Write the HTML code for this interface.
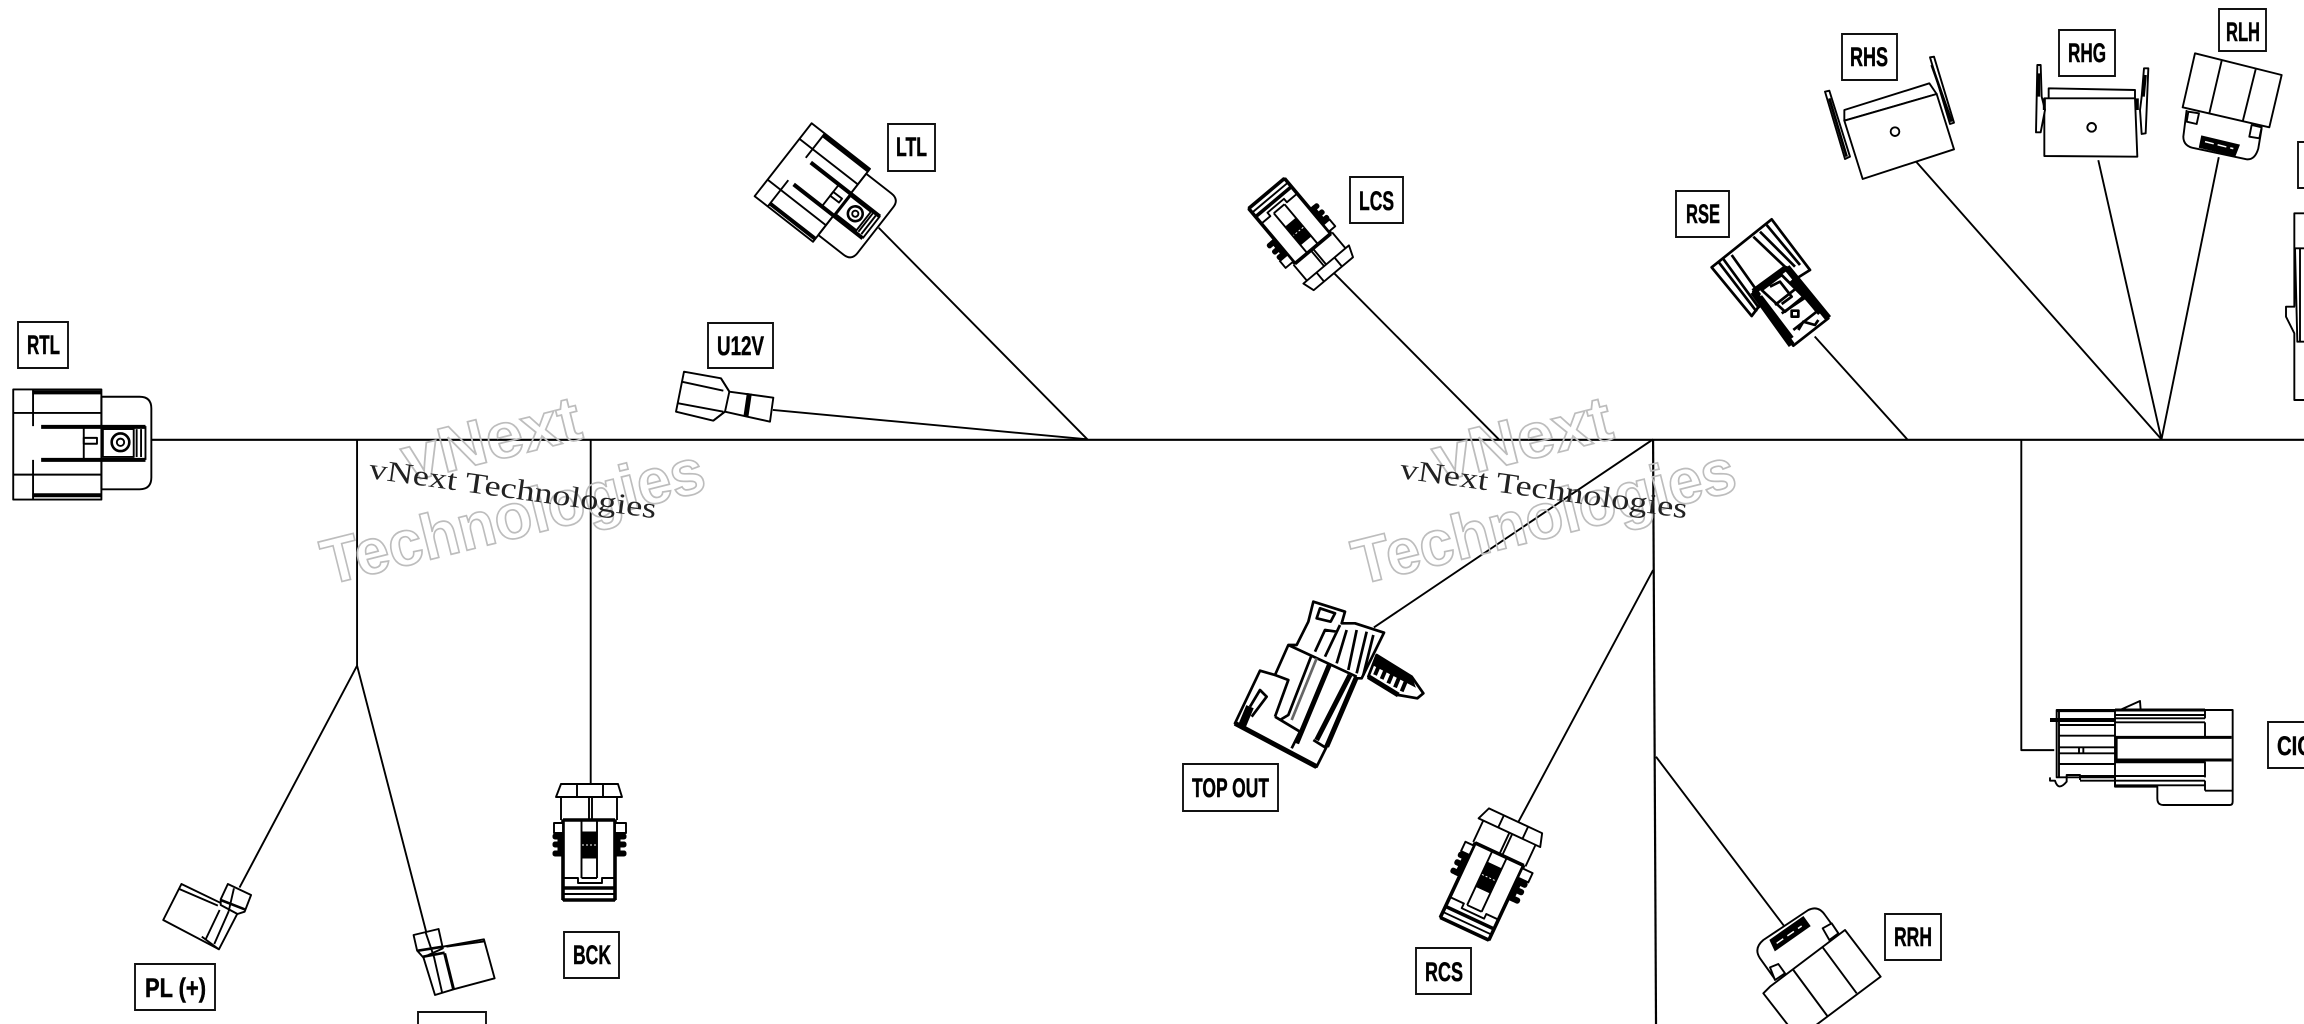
<!DOCTYPE html>
<html><head><meta charset="utf-8"><title>Harness diagram</title>
<style>
html,body{margin:0;padding:0;background:#fff;width:2304px;height:1024px;overflow:hidden}
svg{display:block}
svg *{vector-effect:non-scaling-stroke}
.s{fill:none;stroke:#000;stroke-width:1.9;stroke-linejoin:round}
.w{fill:#fff;stroke:#000;stroke-width:1.9;stroke-linejoin:round}
.t{fill:none;stroke:#000;stroke-width:3.6}
.b{fill:#000;stroke:#000;stroke-width:1}
.h .s,.h .w{stroke-width:2.7}
.box{fill:#fff;stroke:#111;stroke-width:1.9}
.lbl{font-family:"Liberation Sans",sans-serif;font-weight:bold;font-size:27px;fill:#000;stroke:#000;stroke-width:.5}
.mk{font-family:"Liberation Sans",sans-serif;font-weight:bold;font-size:64px;fill:none;stroke:#bdbdbd;stroke-width:1.7}
.mk2{font-family:"Liberation Serif",serif;font-size:29px;fill:#222}
</style></head><body>
<svg xmlns="http://www.w3.org/2000/svg" width="2304" height="1024" viewBox="0 0 2304 1024">
<defs>
<g id="hdr">
  <path class="w" d="M69 270H95Q103 270 103 278V325Q103 333 95 333H69"/>
  <rect class="w" x="9" y="265" width="60" height="75"/>
  <path class="s" d="M22.5 265V290M22.5 313V340M69 270V290M69 313V333M9 281H69M9 323H69M57 290V313M99 290V313"/>
  <path class="t" d="M22 267H69M22 337H69M28 290.5H99M28 313H99" style="stroke-width:4"/>
  <rect class="s" x="57" y="298" width="9" height="4"/>
  <rect class="s" x="70" y="292" width="21" height="19"/>
  <circle class="t" cx="82" cy="301" r="6" style="stroke-width:2.6"/>
  <circle class="s" cx="82" cy="301" r="2.5"/>
  <path class="s" d="M93 292V311M96 292V311"/>
</g>
<g id="bck">
  <polygon class="w" points="-29,0 28,0 32,13 -34,13"/>
  <path class="s" d="M-13 0V13M13 0V13M-29 13V36M27 13V36M-1 13V36M2 13V36"/>
  <rect class="w" x="-27" y="36" width="52" height="80"/>
  <path class="t" d="M-27 36H25M-27 36V116M25 36V116M-27 104H25M-27 116H25"/>
  <path class="s" d="M-8.5 36V94M7 36V94M-8.5 94H7M-27 94H-12V99H12V94H25M-27 110H25"/>
  <rect class="b" x="-8.5" y="48" width="15.5" height="26"/>
  <path d="M-8 61H6" stroke="#fff" stroke-width="1" stroke-dasharray="2 2" fill="none"/>
  <rect class="w" x="-36" y="39" width="9" height="10"/>
  <rect class="w" x="25" y="39" width="11" height="10"/>
  <rect class="b" x="-37" y="50" width="10" height="5" rx="2"/>
  <rect class="b" x="-37" y="58" width="10" height="5" rx="2"/>
  <rect class="b" x="-37" y="67" width="10" height="5" rx="2"/>
  <rect class="b" x="-32" y="50" width="5" height="22"/>
  <rect class="b" x="25" y="50" width="11" height="5" rx="2"/>
  <rect class="b" x="25" y="58" width="11" height="5" rx="2"/>
  <rect class="b" x="25" y="67" width="11" height="5" rx="2"/>
  <rect class="b" x="25" y="50" width="5" height="22"/>
</g>
<g id="mk">
  <text class="mk" transform="translate(408,482) rotate(-14)" textLength="182" lengthAdjust="spacingAndGlyphs">vNext</text>
  <text class="mk" transform="translate(328,585) rotate(-14)" textLength="392" lengthAdjust="spacingAndGlyphs">Technologies</text>
  <text class="mk2" transform="translate(368,478) rotate(8)" textLength="290" lengthAdjust="spacingAndGlyphs">vNext Technologies</text>
</g>
</defs>

<!-- wires -->
<g transform="scale(1.4694)" class="s">
  <path class="s" d="M103 299.3H1568" style="stroke-width:2.2"/>
  <path class="s" d="M243 299V453L163 604M243 453L290 634"/>
  <path class="s" d="M402 299V535"/>
  <path class="s" d="M526 279L740 299L598 155"/>
  <path class="s" d="M908 186L1020 299"/>
  <path class="s" d="M1125 299L935 427"/>
  <path class="s" d="M1125 299L1127 697" style="stroke-width:2.2"/>
  <path class="s" d="M1125 388L1033 560M1127 515L1214 630"/>
  <path class="s" d="M1235 229L1298 299"/>
  <path class="s" d="M1304 110L1471 299L1428 109M1471 299L1510 107"/>
  <path class="s" d="M1375.6 299V510.5H1398"/>
</g>

<!-- RTL / LTL -->
<g transform="scale(1.4694)">
  <use href="#hdr"/>
  <use href="#hdr" transform="translate(597,155) rotate(38) scale(.84) translate(-103,-299)"/>
</g>

<!-- BCK family -->
<use href="#bck" transform="translate(590,784)"/>
<use href="#bck" transform="translate(1516,821) rotate(25) scale(1.03)"/>
<use href="#bck" transform="translate(1333,274) rotate(140) scale(.9)"/>

<!-- U12V -->
<g transform="translate(660,100) scale(.33333)">
  <polygon class="w" points="72,815 183,835 208,875 340,893 330,965 262,950 195,935 160,962 48,935"/>
  <path class="s" d="M65 845L190 872M55 910L190 935M208 875L195 935M183 835L208 875M160 962L195 935"/>
  <path class="t" d="M268 880L258 948" style="stroke-width:5"/>
</g>

<!-- PL connectors -->
<g transform="translate(100,740) scale(.35714,.33333)">
  <polygon class="w" points="228,432 340,490 390,510 333,628 177,540"/>
  <path class="s" d="M222 447L330 497M295 600L335 510M320 612L360 515M285 590L333 628"/>
  <polygon class="w" points="358,432 423,465 405,515 385,522 338,495 338,478"/>
  <path class="t" d="M338 480L405 508" style="stroke-width:2.6"/>
  <path class="s" d="M375 445L360 515"/>
  <polygon class="w" points="960,620 1075,598 1105,715 990,748 938,765 905,650"/>
  <polygon class="w" points="878,585 948,567 960,625 905,652 888,632"/>
  <path class="t" d="M890 632L960 620M905 650L965 638" style="stroke-width:2.6"/>
  <path class="s" d="M912 578L935 650M935 650L958 758M970 620L1078 604"/>
  <path class="t" d="M965 640L990 748" style="stroke-width:3"/>
</g>

<!-- TOP OUT -->
<g class="h" transform="translate(1160,580) scale(.33333)">
  <polygon class="w" points="650,225 755,290 790,340 772,355 715,345 625,290"/>
  <polygon class="b" points="650,225 755,292 765,320 640,255"/>
  <path class="t" d="M625 290L715 345" style="stroke-width:5"/>
  <path class="t" d="M660 250L645 285M680 262L665 297M700 274L685 310M720 286L705 322M740 298L725 334" style="stroke-width:4"/>
  <polygon class="w" points="445,125 460,65 555,95 545,130 585,130 672,158 605,295 590,295 500,500 470,560 225,430 300,272 345,285 385,195 410,195"/>
  <polygon class="s" points="480,85 525,100 512,125 470,115"/>
  <path class="s" d="M385 195L590 290M345 285L385 300L345 410M455 225L385 405L360 420M510 250L410 490M345 410L420 455L395 505M460 480L500 505M540 135L495 230M530 155L495 150L465 215M560 150L530 250M590 150L565 270M620 155L590 280M640 165L610 285M270 380L300 330L320 350L275 410"/>
  <path class="t" d="M225 430L470 560M510 250L410 490M570 285L470 480M590 290L500 500" style="stroke-width:5"/>
  <path class="t" d="M270 380L245 440" style="stroke-width:8"/>
  <path class="s" d="M470 235L395 420" style="stroke:#666"/>
</g>

<!-- RRH -->
<g transform="translate(1730,890) scale(.33333)">
  <path class="w" d="M135 268L90 205Q70 175 100 150L235 60Q265 45 285 75L325 130"/>
  <polygon class="w" points="120,232 145,222 165,250 135,270"/>
  <polygon class="w" points="278,115 305,100 325,130 298,150"/>
  <polygon class="b" points="120,150 220,80 240,108 135,182"/>
  <path d="M140 160L215 108" stroke="#fff" stroke-width="1.5" stroke-dasharray="8 5" fill="none"/>
  <polygon class="w" points="120,290 345,120 452,260 205,445 100,310"/>
  <path class="s" d="M190 240L292 378M278 172L380 310"/>
</g>

<!-- RSE -->
<g class="h" transform="translate(1660,180) scale(.33333)">
  <polygon class="w" points="155,262 335,118 450,270 410,295 300,375 275,408"/>
  <polygon class="w" points="280,335 380,262 505,415 400,497"/>
  <path class="t" d="M280 335L395 495M380 262L505 415" style="stroke-width:7"/>
  <path class="t" d="M280 335L380 262" style="stroke-width:6"/>
  <path class="s" d="M175 245L290 395M190 237L298 385M215 225L300 345M280 170L385 270M300 155L405 260M320 135L420 255"/>
  <polygon class="w" points="305,330 365,285 430,350 375,395"/>
  <path class="s" d="M330 320L360 305L395 350L365 372M345 375L415 320M365 400L440 350L470 395L400 450"/>
  <rect class="s" x="395" y="392" width="20" height="18"/>
  <path class="t" d="M300 350L395 475M395 300L480 400" style="stroke-width:5"/>
  <path class="s" d="M415 450L430 425L465 435L475 420"/>
</g>

<!-- RHS RHG RLH -->
<g transform="translate(1800,0) scale(.33333)">
  <polygon class="w" points="133,330 388,250 410,282 133,362"/>
  <polygon class="w" points="133,362 410,282 462,448 188,537"/>
  <circle class="s" cx="285" cy="395" r="13"/>
  <polygon class="w" points="75,275 88,272 150,470 135,477"/>
  <polygon class="w" points="390,172 402,170 462,368 450,372"/>
  <path class="t" d="M88 295L140 470M395 195L455 365" style="stroke-width:2.6"/>

  <polygon class="w" points="746,265 1005,270 1005,297 746,295"/>
  <polygon class="w" points="733,295 1005,295 1012,470 733,468"/>
  <circle class="s" cx="875" cy="382" r="13"/>
  <polygon class="w" points="712,195 722,195 725,290 735,330 722,397 708,397"/>
  <polygon class="w" points="1032,205 1045,205 1037,400 1025,402 1020,330 1025,290"/>
  <path class="t" d="M733 295V330M1012 295V330M716 220V290M1036 225L1030 290" style="stroke-width:3"/>

  <path class="w" d="M1160 330L1150 410Q1150 440 1185 445L1340 478Q1365 480 1375 445L1385 385"/>
  <polygon class="w" points="1185,160 1445,225 1408,382 1148,322"/>
  <path class="s" d="M1265 182L1228 340M1367 208L1328 365"/>
  <polygon class="w" points="1165,335 1197,340 1190,372 1160,365"/>
  <polygon class="w" points="1355,375 1385,382 1378,415 1348,410"/>
  <polygon class="b" points="1205,408 1318,435 1305,468 1198,442"/>
  <path d="M1215 425L1300 446" stroke="#fff" stroke-width="1.5" stroke-dasharray="9 4" fill="none"/>
</g>

<!-- Right edge connector -->
<g transform="translate(2200,130) scale(.33333)">
  <path class="s" d="M312 250H283V530M312 355H285L292 635H312M300 355V635M285 530H258V560L283 610V810H312"/>
</g>

<!-- CIC connector -->
<g transform="translate(2000,660) scale(.33333)">
  <path class="w" d="M472 380V415Q472 435 490 435H690Q698 435 698 425V150H170V352H345V380Z"/>
  <path class="s" d="M345 150V380M177 150V350M615 150V175M345 165H615M345 175H615M345 187H615M615 187V232M615 305V352M345 307H615M240 348H615M240 362H615M615 362V392M345 376H615M615 392H698M350 235V300M177 195H345M177 227H345M177 262H345M177 280H345M177 312H345M237 262V280M250 262V280"/>
  <path class="t" d="M345 232H695M345 300H695M170 152H345M345 150H615" style="stroke-width:3"/>
  <path class="t" d="M150 180H345" style="stroke-width:4"/>
  <path class="s" d="M360 150L420 123L422 150M150 352V362H165Q175 395 200 365V345H240V360"/>
</g>

<!-- Watermarks -->
<use href="#mk"/>
<use href="#mk" transform="translate(1031,0)"/>

<!-- Labels -->
<g>
<rect class="box" x="18" y="322" width="50" height="46"/><text class="lbl" x="27" y="354" textLength="33" lengthAdjust="spacingAndGlyphs">RTL</text>
<rect class="box" x="708" y="323" width="65" height="45"/><text class="lbl" x="717" y="355" textLength="47" lengthAdjust="spacingAndGlyphs">U12V</text>
<rect class="box" x="888" y="124" width="47" height="47"/><text class="lbl" x="896" y="156" textLength="31" lengthAdjust="spacingAndGlyphs">LTL</text>
<rect class="box" x="1350" y="177" width="53" height="46"/><text class="lbl" x="1359" y="210" textLength="35" lengthAdjust="spacingAndGlyphs">LCS</text>
<rect class="box" x="1676" y="191" width="53" height="46"/><text class="lbl" x="1686" y="223" textLength="34" lengthAdjust="spacingAndGlyphs">RSE</text>
<rect class="box" x="1842" y="34" width="55" height="46"/><text class="lbl" x="1850" y="66" textLength="38" lengthAdjust="spacingAndGlyphs">RHS</text>
<rect class="box" x="2059" y="30" width="56" height="46"/><text class="lbl" x="2068" y="62" textLength="38" lengthAdjust="spacingAndGlyphs">RHG</text>
<rect class="box" x="2219" y="9" width="47" height="42"/><text class="lbl" x="2226" y="41" textLength="34" lengthAdjust="spacingAndGlyphs">RLH</text>
<rect class="box" x="2298" y="142" width="20" height="46"/>
<rect class="box" x="2268" y="722" width="50" height="46"/><text class="lbl" x="2277" y="755" textLength="35" lengthAdjust="spacingAndGlyphs">CIC</text>
<rect class="box" x="1183" y="764" width="95" height="47"/><text class="lbl" x="1192" y="797" textLength="77" lengthAdjust="spacingAndGlyphs">TOP OUT</text>
<rect class="box" x="1416" y="948" width="55" height="46"/><text class="lbl" x="1425" y="981" textLength="38" lengthAdjust="spacingAndGlyphs">RCS</text>
<rect class="box" x="1885" y="914" width="56" height="46"/><text class="lbl" x="1894" y="946" textLength="38" lengthAdjust="spacingAndGlyphs">RRH</text>
<rect class="box" x="564" y="932" width="55" height="46"/><text class="lbl" x="573" y="964" textLength="38" lengthAdjust="spacingAndGlyphs">BCK</text>
<rect class="box" x="135" y="964" width="80" height="46"/><text class="lbl" x="145" y="997" textLength="61" lengthAdjust="spacingAndGlyphs">PL (+)</text>
<rect class="box" x="418" y="1012" width="68" height="30"/>
</g>
</svg>
</body></html>
